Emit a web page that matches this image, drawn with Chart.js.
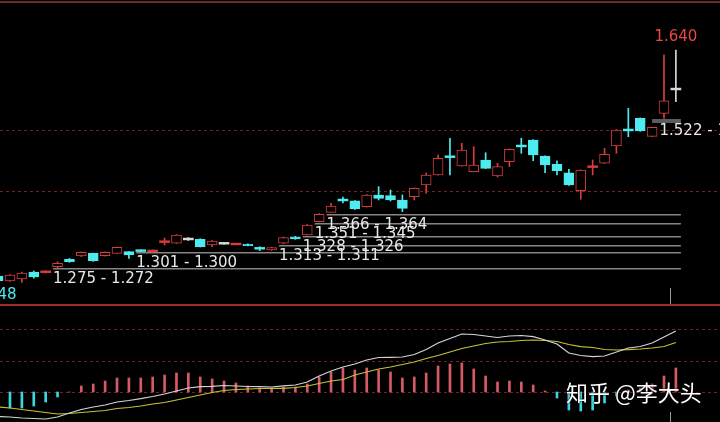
<!DOCTYPE html>
<html>
<head>
<meta charset="utf-8">
<script src="https://cdn.jsdelivr.net/npm/chart.js@4.4.1/dist/chart.umd.min.js"></script>
<style>
html, body { margin: 0; padding: 0; background: #000; }
#wrap { position: relative; width: 720px; height: 422px; overflow: hidden; background: #000; }
#mainChart { position: absolute; left: 0; top: 0; }
#macdChart { position: absolute; left: 0; top: 304px; }
#mark { position: absolute; left: 566px; top: 380px; font-family: "Noto Sans CJK SC", sans-serif; font-size: 22px; line-height: 22px; color: #fff; white-space: nowrap; text-shadow: 0 0 2px #000, 0 0 1px #000; }
</style>
</head>
<body>
<div id="wrap">
  <canvas id="mainChart" width="720" height="304"></canvas>
  <canvas id="macdChart" width="720" height="118"></canvas>
  <div id="mark">知乎 @李大头</div>
</div>
<script>
// K线数据
const opens  = [1.2616,1.2532,1.2566,1.2683,1.2682,1.2772,1.2896,1.2951,1.2996,1.2956,
                1.2996,1.3023,1.3045,1.3032,1.3187,1.3164,1.3236,1.3231,1.3135,1.3164,
                1.3148,1.3147,1.3084,1.3052,1.3164,1.3274,1.3303,1.3526,1.3683,1.3893,
                1.3877,1.3777,1.3973,1.3961,1.3889,1.3944,1.4140,1.4308,1.4618,1.4459,
                1.4363,1.4559,1.4291,1.4531,1.4798,1.4894,1.4626,1.4487,1.4346,1.4045,
                1.4443,1.4504,1.4794,1.5066,1.5257,1.4956,1.5341,1.5748];
const closes = [1.2532,1.2633,1.2666,1.2599,1.2690,1.2829,1.2856,1.3013,1.2872,1.3013,
                1.3097,1.2968,1.3037,1.3040,1.3195,1.3303,1.3236,1.3107,1.3202,1.3164,
                1.3156,1.3124,1.3076,1.3090,1.3258,1.3236,1.3470,1.3650,1.3789,1.3885,
                1.3738,1.3973,1.3917,1.3889,1.3750,1.4085,1.4308,1.4588,1.4610,1.4727,
                1.4475,1.4420,1.4447,1.4738,1.4790,1.4643,1.4475,1.4380,1.4140,1.4392,
                1.4451,1.4655,1.5062,1.5058,1.5045,1.5107,1.5552,1.5748];
const highs  = [1.2650,1.2640,1.2683,1.2700,1.2705,1.2856,1.2910,1.3020,1.3000,1.3020,
                1.3100,1.3025,1.3055,1.3050,1.3253,1.3310,1.3260,1.3240,1.3210,1.3180,
                1.3165,1.3155,1.3107,1.3100,1.3270,1.3280,1.3480,1.3660,1.3834,1.3940,
                1.3880,1.3980,1.4112,1.4057,1.3973,1.4090,1.4341,1.4643,1.4923,1.4839,
                1.4782,1.4681,1.4504,1.4745,1.4923,1.4900,1.4630,1.4547,1.4403,1.4395,
                1.4559,1.4755,1.5070,1.5425,1.5265,1.5110,1.6320,1.6400];
const lows   = [1.2480,1.2525,1.2510,1.2580,1.2665,1.2745,1.2845,1.2940,1.2860,1.2950,
                1.2990,1.2912,1.3025,1.3020,1.3135,1.3160,1.3210,1.3100,1.3107,1.3150,
                1.3140,1.3120,1.3040,1.3045,1.3155,1.3230,1.3300,1.3520,1.3680,1.3840,
                1.3730,1.3770,1.3889,1.3872,1.3693,1.3889,1.4001,1.4305,1.4308,1.4455,
                1.4360,1.4415,1.4274,1.4447,1.4671,1.4547,1.4346,1.4308,1.4135,1.3901,
                1.4308,1.4500,1.4671,1.4950,1.5040,1.4950,1.5257,1.5536];

// MACD
const dif = [-0.01225,-0.0125,-0.013,-0.01325,-0.0135,-0.0125,-0.0105,-0.00875,-0.0075,-0.0065,
             -0.005,-0.00425,-0.00335,-0.00225,-0.001,0.0005,0.002,0.00265,0.00285,0.00325,
             0.003,0.00275,0.00265,0.0025,0.0031,0.0035,0.005,0.008,0.0105,0.0125,
             0.014,0.016,0.01725,0.01735,0.0175,0.01875,0.02125,0.0245,0.02675,0.029,
             0.02875,0.028,0.02725,0.028,0.02825,0.02765,0.026,0.024,0.0195,0.01825,
             0.01765,0.018,0.02,0.022,0.02275,0.0245,0.0275,0.0305];
const dea = [-0.0075,-0.008,-0.00875,-0.0095,-0.01025,-0.011,-0.01075,-0.01025,-0.00975,-0.00925,
             -0.00825,-0.00775,-0.007,-0.006,-0.00525,-0.004,-0.00275,-0.0015,-0.00025,0.00075,
             0.00125,0.0015,0.00175,0.00185,0.00185,0.00225,0.003,0.00425,0.0055,0.00625,
             0.0085,0.01,0.0115,0.0125,0.01375,0.015,0.01675,0.01825,0.02,0.02175,
             0.023,0.02425,0.025,0.02525,0.02575,0.026,0.02575,0.02525,0.02375,0.02265,
             0.02225,0.02125,0.021,0.02115,0.0215,0.022,0.02275,0.02475];
const macdHist = [-0.0085,-0.008,-0.008,-0.007,-0.005,-0.0025,0,0.003,0.004,0.0055,
                  0.007,0.007,0.007,0.0075,0.0085,0.0095,0.0095,0.0075,0.0065,0.0055,
                  0.0045,0.003,0.002,0.0015,0.0025,0.0025,0.004,0.0075,0.01,0.012,
                  0.011,0.012,0.011,0.01,0.007,0.0075,0.0095,0.013,0.014,0.0145,
                  0.0115,0.008,0.005,0.0055,0.005,0.0035,0.0005,-0.003,-0.009,-0.0095,
                  -0.009,-0.0055,-0.002,0.001,0.002,0.004,0.008,0.012];

// 画线价位
const levelHi   = [1.275, 1.301, 1.313, 1.328, 1.351, 1.366, 1.522];
const levelLo   = [1.272, 1.300, 1.311, 1.326, 1.345, 1.364, 1.519];
const levelFrom = [5, 12, 24, 26, 27, 28, 56];

const priceGrid = [1.404, 1.506];
const macdGrid = [0, 0.0155, 0.0315];
const cursorAt = 56.5;

const RED = '#d63c3c', CYAN = '#4cecf0', WHITE = '#d8d8d8';

const idx = opens.map((_, i) => i);
const isDoji = i => Math.abs(closes[i] - opens[i]) <= 0.001;
const candleColor = i => closes[i] > opens[i] ? RED : (closes[i] < opens[i] ? CYAN : WHITE);
const colors = idx.map(candleColor);

const wickData = idx.map(i => ({ x: i, y: [lows[i], highs[i]] }));
const bodyData = idx.map(i => {
    if (isDoji(i)) {
        const m = (opens[i] + closes[i]) / 2;
        return { x: i, y: [m - 0.0015, m + 0.0015] };
    }
    return { x: i, y: [Math.min(opens[i], closes[i]), Math.max(opens[i], closes[i])] };
});
const bodyFill = idx.map(i => (!isDoji(i) && colors[i] === RED) ? '#000' : colors[i]);
const bodyBorder = idx.map(i => isDoji(i) ? 0 : 1);

const X_MIN = 0.16, X_MAX = 60.71;

const mainDeco = {
    id: 'mainDeco',
    beforeDatasetsDraw(chart) {
        const { ctx, scales: { x, y } } = chart;
        ctx.save();
        ctx.fillStyle = '#6b2b2f';
        ctx.fillRect(0, 1, chart.width, 2);

        ctx.strokeStyle = '#7a1e1e';
        ctx.lineWidth = 1;
        ctx.setLineDash([3, 3]);
        priceGrid.forEach(v => {
            const py = Math.round(y.getPixelForValue(v)) + 0.5;
            ctx.beginPath(); ctx.moveTo(0, py); ctx.lineTo(chart.width, py); ctx.stroke();
        });
        ctx.setLineDash([]);

        const xEnd = x.getPixelForValue(opens.length - 1) + 5;
        levelHi.forEach((v, k) => {
            const py = Math.round(y.getPixelForValue(v));
            if (k === levelHi.length - 1) {
                const x0 = x.getPixelForValue(levelFrom[k] - 1);
                ctx.fillStyle = '#5c5c5c';
                ctx.fillRect(x0, py - 2, xEnd - x0, 4);
            } else {
                const x0 = x.getPixelForValue(levelFrom[k]) - 4.5;
                ctx.fillStyle = '#858585';
                ctx.fillRect(x0, py, xEnd - x0, 1.5);
            }
        });

        const cx = Math.round(x.getPixelForValue(cursorAt)) + 0.5;
        ctx.strokeStyle = '#9a9a9a';
        ctx.beginPath(); ctx.moveTo(cx, chart.chartArea.bottom - 16); ctx.lineTo(cx, chart.chartArea.bottom); ctx.stroke();
        ctx.restore();
    },
    afterDatasetsDraw(chart) {
        const { ctx, scales: { x, y } } = chart;
        ctx.save();
        ctx.font = '15px "DejaVu Sans"';
        ctx.textBaseline = 'middle';
        ctx.textAlign = 'left';
        ctx.fillStyle = '#e8e8e8';
        levelHi.forEach((v, k) => {
            const x0 = x.getPixelForValue(levelFrom[k]) - 4.5;
            ctx.fillText(v.toFixed(3) + ' - ' + levelLo[k].toFixed(3), x0, y.getPixelForValue(v) + 11);
        });

        let iHi = 0, iLo = 0;
        idx.forEach(i => { if (highs[i] > highs[iHi]) iHi = i; if (lows[i] < lows[iLo]) iLo = i; });
        ctx.textAlign = 'center';
        ctx.fillStyle = '#e84848';
        ctx.fillText(highs[iHi].toFixed(3), x.getPixelForValue(iHi), y.getPixelForValue(highs[iHi]) - 13);
        ctx.fillStyle = CYAN;
        ctx.fillText(lows[iLo].toFixed(3), x.getPixelForValue(iLo) - 3, y.getPixelForValue(lows[iLo]) + 11);
        ctx.restore();
    }
};

const mainChart = new Chart(document.getElementById('mainChart'), {
    type: 'bar',
    data: {
        datasets: [
            { label: 'wick', data: wickData, backgroundColor: colors, borderWidth: 0,
              barThickness: 1, grouped: false, order: 2 },
            { label: 'body', data: bodyData, backgroundColor: bodyFill, borderColor: colors,
              borderWidth: bodyBorder, borderSkipped: false, barThickness: 10, grouped: false, order: 1 }
        ]
    },
    options: {
        responsive: false,
        animation: false,
        devicePixelRatio: 1,
        layout: { padding: 0 },
        plugins: { legend: { display: false }, tooltip: { enabled: false } },
        scales: {
            x: { type: 'linear', min: X_MIN, max: X_MAX, offset: false, display: false },
            y: { min: 1.2147, max: 1.7239, display: false }
        }
    },
    plugins: [mainDeco]
});

const macdDeco = {
    id: 'macdDeco',
    beforeDatasetsDraw(chart) {
        const { ctx, scales: { x, y } } = chart;
        ctx.save();
        ctx.fillStyle = '#a02a2a';
        ctx.fillRect(0, 0, chart.width, 2);
        ctx.strokeStyle = '#7a1e1e';
        ctx.lineWidth = 1;
        ctx.setLineDash([3, 3]);
        macdGrid.forEach(v => {
            const py = Math.round(y.getPixelForValue(v)) + 0.5;
            ctx.beginPath(); ctx.moveTo(0, py); ctx.lineTo(chart.width, py); ctx.stroke();
        });
        ctx.setLineDash([]);
        const cx = Math.round(x.getPixelForValue(cursorAt)) + 0.5;
        ctx.strokeStyle = '#9a9a9a';
        ctx.beginPath(); ctx.moveTo(cx, y.getPixelForValue(-0.01)); ctx.lineTo(cx, chart.chartArea.bottom); ctx.stroke();
        ctx.restore();
    }
};

const macdChart = new Chart(document.getElementById('macdChart'), {
    type: 'bar',
    data: {
        datasets: [
            { type: 'line', label: 'DIF', data: idx.map(i => ({ x: i, y: dif[i] })),
              borderColor: '#d4d4d4', borderWidth: 1.2, pointRadius: 0, tension: 0, order: 1 },
            { type: 'line', label: 'DEA', data: idx.map(i => ({ x: i, y: dea[i] })),
              borderColor: '#c4c236', borderWidth: 1.2, pointRadius: 0, tension: 0, order: 2 },
            { type: 'bar', label: 'MACD', data: idx.map(i => ({ x: i, y: macdHist[i] })),
              backgroundColor: macdHist.map(v => v >= 0 ? '#d45a66' : '#3cd6e0'),
              borderWidth: 0, barThickness: 2, grouped: false, order: 3 }
        ]
    },
    options: {
        responsive: false,
        animation: false,
        devicePixelRatio: 1,
        layout: { padding: 0 },
        plugins: { legend: { display: false }, tooltip: { enabled: false } },
        scales: {
            x: { type: 'linear', min: X_MIN, max: X_MAX, offset: false, display: false },
            y: { min: -0.015, max: 0.044, display: false }
        }
    },
    plugins: [macdDeco]
});
</script>
</body>
</html>
